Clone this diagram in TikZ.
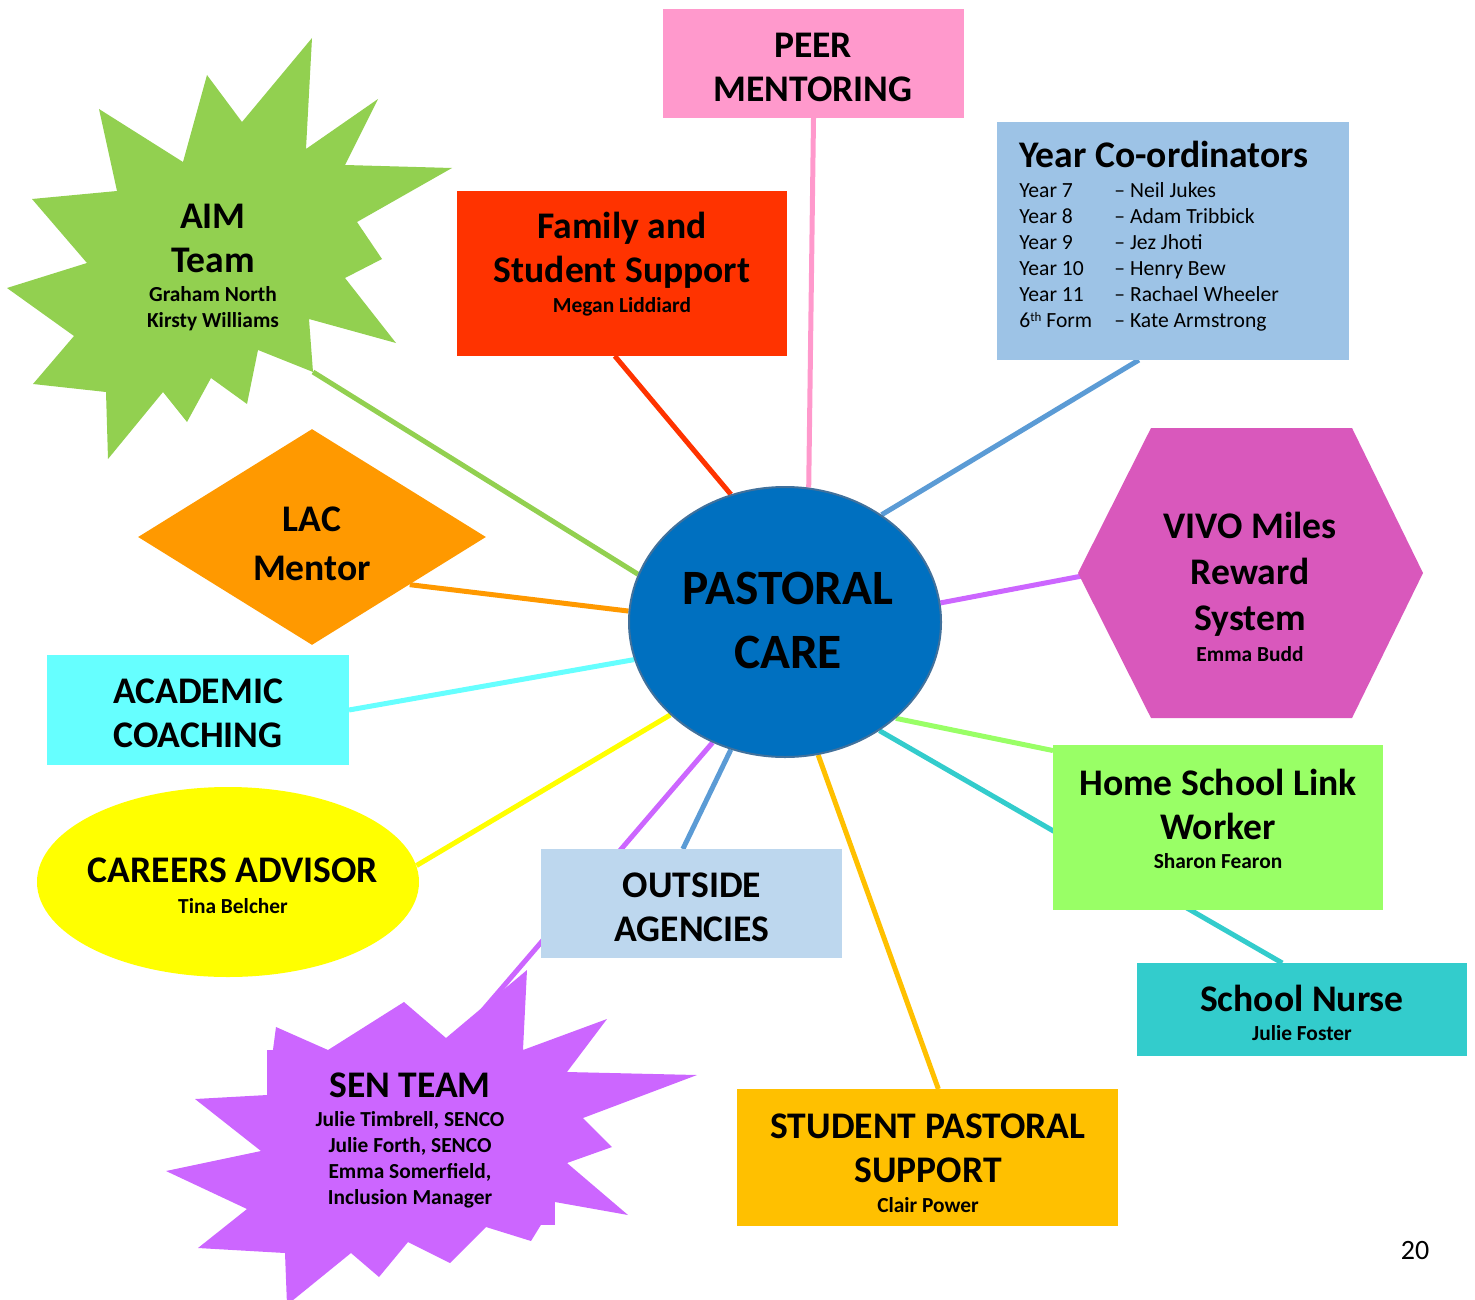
\documentclass[tikz,border=0pt]{standalone}
\usepackage{fontspec}
\setmainfont{Carlito}
\usetikzlibrary{shapes.geometric,fit,backgrounds}

\definecolor{peerpink}{HTML}{FF99CC}
\definecolor{famred}{HTML}{FF3300}
\definecolor{yearblue}{HTML}{9DC3E6}
\definecolor{aimgreen}{HTML}{92D050}
\definecolor{lacorange}{HTML}{FF9900}
\definecolor{acadcyan}{HTML}{66FFFF}
\definecolor{careeryellow}{HTML}{FFFF00}
\definecolor{outblue}{HTML}{BDD7EE}
\definecolor{senpurple}{HTML}{CC66FF}
\definecolor{studgold}{HTML}{FFC000}
\definecolor{nurseteal}{HTML}{33CCCC}
\definecolor{homegreen}{HTML}{99FF66}
\definecolor{vivopink}{HTML}{D958BC}
\definecolor{careblue}{HTML}{0070C0}
\definecolor{careedge}{HTML}{41719C}
\definecolor{spokeblue}{HTML}{5B9BD5}

\begin{document}
\begin{tikzpicture}[x=0.5pt,y=-0.5pt,
    tbox/.style={rectangle,inner sep=0pt,outer sep=0pt},
    ttl/.style={align=center,inner sep=0pt,font=\fontsize{18.8}{22}\selectfont\bfseries},
    nms/.style={align=center,inner sep=0pt,font=\fontsize{10.7}{13}\selectfont\bfseries},
    spoke/.style={line width=2.5pt}]

\useasboundingbox (0,0) rectangle (1475,1299);

% centre
\node[ellipse,fill=careblue,draw=careedge,line width=1pt,inner sep=0pt,
      minimum width=156pt,minimum height=135pt] (care) at (785,622) {};
\node[align=center,inner sep=0pt,font=\fontsize{24.7}{32}\selectfont\bfseries] (care-txt) at (788,620) {PASTORAL\\CARE};

% top row
\node[tbox,fill=peerpink,fit={(663,9) (964,118)}] (peer) {};
\node[ttl] (peer-txt) at (813,67) {PEER\\MENTORING};

\node[tbox,fill=famred,fit={(457,191) (787,356)}] (family) {};
\node[ttl] (family-txt) at (622,250) {Family and\\Student Support};
\node[nms] (family-nms) at (622,307) {Megan Liddiard};

\node[tbox,fill=yearblue,fit={(997,122) (1349,360)}] (year) {};
\node[anchor=base west,inner sep=0pt,font=\fontsize{10.8}{13}\selectfont] (year-txt) at (1019,168) {%
  \begin{tabular}[t]{@{}p{47.5pt}@{}l@{}}
  \multicolumn{2}{@{}l@{}}{\fontsize{18.8}{22}\selectfont\bfseries Year Co-ordinators}\\[2pt]
  Year 7 & -- Neil Jukes\\
  Year 8 & -- Adam Tribbick\\
  Year 9 & -- Jez Jhoti\\
  Year 10 & -- Henry Bew\\
  Year 11 & -- Rachael Wheeler\\
  6\raisebox{3pt}{\fontsize{6.5}{7}\selectfont th} Form & -- Kate Armstrong
  \end{tabular}};

% AIM star
\fill[aimgreen] (312,38) -- (306,149) -- (378,99) -- (345,165) -- (452,168) -- (357,222)
  -- (382,259) -- (345,278) -- (396,343) -- (309,319) -- (313,372) -- (258,350)
  -- (247,404) -- (211,378) -- (187,422) -- (163,392) -- (108,459) -- (106,392)
  -- (33,384) -- (74,336) -- (7,288) -- (87,263) -- (32,199) -- (117,191)
  -- (99,109) -- (183,162) -- (207,75) -- (242,122) -- cycle;
\coordinate (aim-tip) at (313,372);
\node[ttl] (aim) at (213,238) {AIM\\Team};
\node[nms] (aim-nms) at (213,309) {Graham North\\Kirsty Williams};

% left side
\node[diamond,fill=lacorange,inner sep=0pt,minimum width=174pt,minimum height=108pt] (lac) at (312,537) {};
\node[ttl,font=\fontsize{18.8}{24.5}\selectfont\bfseries] (lac-txt) at (312,544) {LAC\\Mentor};

\node[tbox,fill=acadcyan,fit={(47,655) (349,765)}] (academic) {};
\node[ttl] (academic-txt) at (198,713) {ACADEMIC\\COACHING};

\node[ellipse,fill=careeryellow,inner sep=0pt,minimum width=191pt,minimum height=95pt] (careers) at (228,882) {};
\node[ttl] (careers-txt) at (233,870) {CAREERS ADVISOR};
\node[nms] (careers-nms) at (233,906) {Tina Belcher};

% bottom
\node[tbox,fill=outblue,fit={(541,849) (842,958)}] (outside) {};
\node[ttl] (outside-txt) at (692,907) {OUTSIDE\\AGENCIES};

\fill[senpurple] (527,970) -- (523,1050) -- (607,1019) -- (567,1072) -- (697,1075)
  -- (583,1118) -- (612,1147) -- (567,1163) -- (628,1215) -- (555,1202)
  -- (531,1241) -- (486,1227) -- (450,1263) -- (408,1242) -- (379,1277)
  -- (351,1253) -- (287,1305) -- (285,1253) -- (198,1248) -- (247,1209)
  -- (166,1171) -- (261,1151) -- (195,1099) -- (267,1095) -- (276,1027)
  -- (328,1050) -- (404,1002) -- (446,1038) -- cycle;
\fill[senpurple] (267,1050) rectangle (555,1225);
\coordinate (sen-tip) at (453,1045);
\node[ttl] (sen) at (410,1085) {SEN TEAM};
\node[nms] (sen-nms) at (410,1160) {Julie Timbrell, SENCO\\Julie Forth, SENCO\\Emma Somerfield,\\Inclusion Manager};

\node[tbox,fill=studgold,fit={(737,1089) (1118,1226)}] (student) {};
\node[ttl] (student-txt) at (928,1148) {STUDENT PASTORAL\\SUPPORT};
\node[nms] (student-nms) at (928,1205) {Clair Power};

% right side
\node[tbox,fill=nurseteal,fit={(1137,963) (1467,1056)}] (nurse) {};
\node[ttl] (nurse-txt) at (1302,998) {School Nurse};
\node[nms] (nurse-nms) at (1302,1033) {Julie Foster};

\node[tbox,fill=homegreen,fit={(1053,745) (1383,910)}] (home) {};
\node[ttl] (home-txt) at (1218,804) {Home School Link\\Worker};
\node[nms] (home-nms) at (1218,861) {Sharon Fearon};

\fill[vivopink] (1151,428) -- (1352,428) -- (1423,573) -- (1352,718) -- (1151,718) -- (1078,573) -- cycle;
\coordinate (vivo-tip) at (1082,576);
\node[ttl,font=\fontsize{18.8}{23}\selectfont\bfseries] (vivo) at (1250,574) {VIVO Miles\\Reward\\System};
\node[nms] (vivo-nms) at (1250,654) {Emma Budd};

\node[inner sep=0pt,font=\fontsize{14}{14}\selectfont] (page) at (1415,1250) {20};

% spokes
\begin{scope}[on background layer]
\draw[spoke,aimgreen] (care.162) -- (aim-tip);
\draw[spoke,famred] (care.113) -- (family.265);
\draw[spoke,peerpink] (care.80) -- (peer.south);
\draw[spoke,spokeblue] (care.48) -- (year.254);
\draw[spoke,senpurple] (care.7) -- (vivo-tip);
\draw[spoke,lacorange] (care.176) -- (lac.334);
\draw[spoke,acadcyan] (care.194) -- (academic.east);
\draw[spoke,careeryellow] (care.219) -- (careers.5);
\draw[spoke,senpurple] (care.239) -- (sen-tip);
\draw[spoke,spokeblue] (care.247) -- (outside.99);
\draw[spoke,studgold] (care.284) -- (student.81);
\draw[spoke,homegreen] (care.319) -- (home.155);
\draw[spoke,nurseteal] (care.311) -- (nurse.113);
\end{scope}

\end{tikzpicture}
\end{document}
